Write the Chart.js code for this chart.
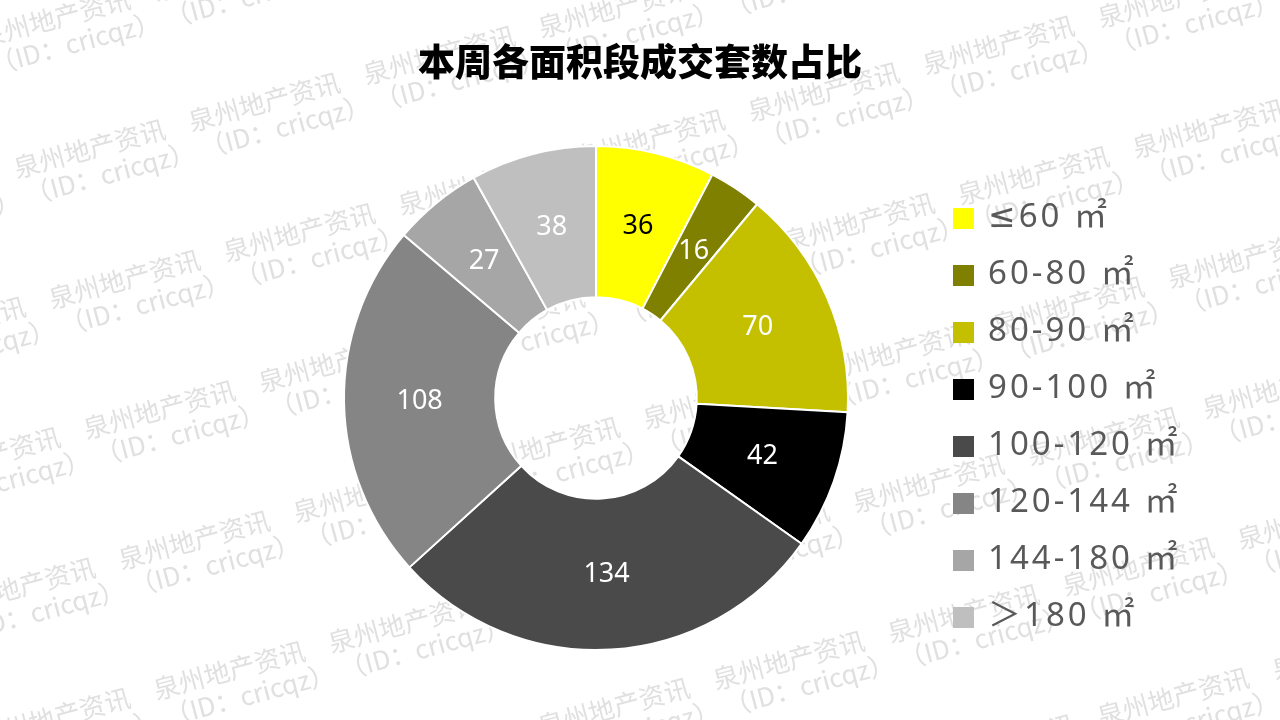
<!DOCTYPE html>
<html>
<head>
<meta charset="utf-8">
<script src="https://cdn.jsdelivr.net/npm/chart.js@4.4.1/dist/chart.umd.min.js"></script>
<style>
  html, body { margin: 0; padding: 0; background: #fff; }
  #wrap { width: 1280px; height: 720px; }
</style>
</head>
<body>
<div id="wrap"><canvas id="donut" width="1280" height="720"></canvas></div>
<script>
  var chartTitle = '本周各面积段成交套数占比';
  var areaLabels = ['≤60 ㎡', '60-80 ㎡', '80-90 ㎡', '90-100 ㎡', '100-120 ㎡', '120-144 ㎡', '144-180 ㎡', '＞180 ㎡'];
  var dealCounts = [36, 16, 70, 42, 134, 108, 27, 38];
  var sliceColors = ['#ffff00', '#7f7f00', '#c4c000', '#000000', '#4a4a4a', '#858585', '#a6a6a6', '#bfbfbf'];
  var valueColors = ['#000000', '#ffffff', '#ffffff', '#ffffff', '#ffffff', '#ffffff', '#ffffff', '#ffffff'];
  var markName = '泉州地产资讯';
  var markId = '（ID：cricqz）';

  // background + faint diagonal watermark
  var watermark = {
    id: 'watermark',
    beforeDraw: function (chart) {
      var ctx = chart.ctx;
      ctx.save();
      ctx.fillStyle = '#ffffff';
      ctx.fillRect(0, 0, chart.width, chart.height);
      ctx.rotate(-15 * Math.PI / 180);
      ctx.font = '26px "Noto Sans CJK SC"';
      ctx.fillStyle = '#e0e0e0';
      ctx.textBaseline = 'middle';
      for (var v = 31.6 - 135; v < 1150; v += 135) {
        for (var u = -30 - 181 * 2; u < 1400; u += 181) {
          ctx.fillText(markName, u, v);
          ctx.fillText(markId, u + 4, v + 29);
        }
      }
      ctx.restore();
    }
  };

  var sliceValues = {
    id: 'sliceValues',
    afterDatasetsDraw: function (chart) {
      var ctx = chart.ctx;
      var meta = chart.getDatasetMeta(0);
      ctx.save();
      ctx.font = '27px "Noto Sans"';
      ctx.textAlign = 'center';
      ctx.textBaseline = 'middle';
      meta.data.forEach(function (arc, i) {
        var p = arc.tooltipPosition();
        ctx.fillStyle = valueColors[i];
        ctx.fillText(String(dealCounts[i]), p.x, p.y);
      });
      ctx.restore();
    }
  };

  var sideLegend = {
    id: 'sideLegend',
    afterDraw: function (chart) {
      var ctx = chart.ctx;
      ctx.save();
      ctx.fillStyle = '#000000';
      ctx.font = '900 37px "Noto Sans CJK SC"';
      ctx.textAlign = 'center';
      ctx.textBaseline = 'middle';
      ctx.fillText(chartTitle, 640, 62);

      ctx.textAlign = 'left';
      ctx.font = '33px "Noto Sans", "DejaVu Sans", "Noto Sans CJK SC"';
      ctx.letterSpacing = '3px';
      areaLabels.forEach(function (lab, i) {
        var y = 218 + i * 57;
        ctx.fillStyle = sliceColors[i];
        ctx.fillRect(953, y - 10, 21, 21);
        ctx.fillStyle = '#595959';
        ctx.fillText(lab, 988, y);
      });
      ctx.restore();
    }
  };

  var ctxD = document.getElementById('donut').getContext('2d');
  var donutChart = new Chart(ctxD, {
    type: 'doughnut',
    data: {
      labels: areaLabels,
      datasets: [{
        data: dealCounts,
        backgroundColor: sliceColors,
        borderColor: '#ffffff',
        borderWidth: 2
      }]
    },
    options: {
      responsive: false,
      animation: false,
      cutout: '40%',
      layout: { padding: { left: 343, right: 431, top: 145, bottom: 69 } },
      plugins: {
        legend: { display: false },
        tooltip: { enabled: false }
      }
    },
    plugins: [watermark, sliceValues, sideLegend]
  });
</script>
</body>
</html>
